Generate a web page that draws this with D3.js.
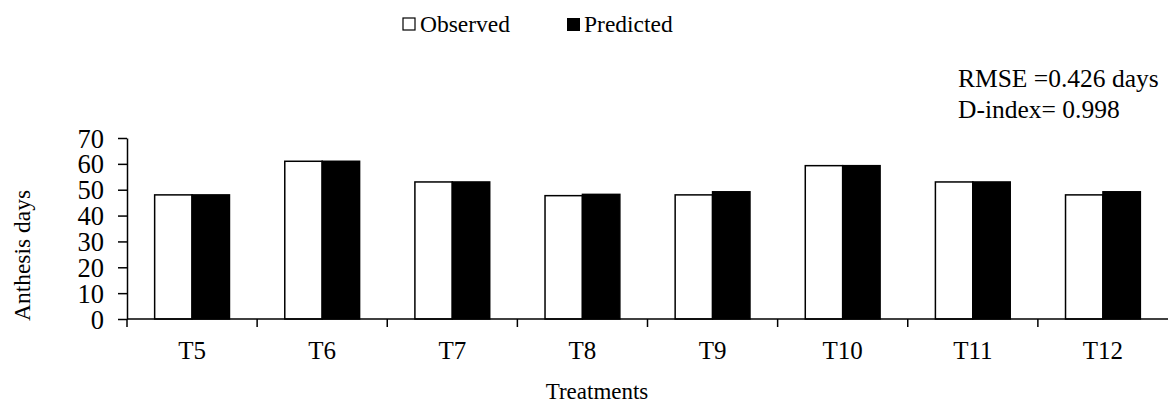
<!DOCTYPE html>
<html>
<head>
<meta charset="utf-8">
<script src="https://cdn.jsdelivr.net/npm/d3@7"></script>
<style>
  body { margin: 0; background: #fff; }
  svg { display: block; }
  svg text { font-family: "Liberation Serif", "Times New Roman", serif; fill: #000; }
</style>
</head>
<body>
<div id="chart"></div>
<script>
// data
const treatments = ["T5", "T6", "T7", "T8", "T9", "T10", "T11", "T12"];
const observed = [48, 61, 53, 47.7, 48, 59.3, 53, 48];
const predicted = [48, 61, 53, 48.2, 49.2, 59.3, 53, 49.2];
const yTicks = [0, 10, 20, 30, 40, 50, 60, 70];

const width = 1168, height = 406;
const margin = {top: 138, right: 0, bottom: 87, left: 127};

const svg = d3.select("#chart").append("svg")
  .attr("width", width)
  .attr("height", height);

const x = d3.scaleBand()
  .domain(treatments)
  .range([margin.left, width - margin.right])
  .paddingInner(0)
  .paddingOuter(0);

// bars fill ~57% of each band
const barW = x.bandwidth() * 0.2875;

const y = d3.scaleLinear()
  .domain([0, 70])
  .range([height - margin.bottom, margin.top]);

// bars
const rows = treatments.map((t, i) => ({t, obs: observed[i], pred: predicted[i]}));
const g = svg.append("g");
rows.forEach(d => {
  const cx = x(d.t) + x.bandwidth() / 2;
  g.append("rect")
    .attr("x", cx - barW)
    .attr("y", y(d.obs))
    .attr("width", barW)
    .attr("height", y(0) - y(d.obs))
    .attr("fill", "#fff")
    .attr("stroke", "#000")
    .attr("stroke-width", 1.5);
  g.append("rect")
    .attr("x", cx)
    .attr("y", y(d.pred))
    .attr("width", barW)
    .attr("height", y(0) - y(d.pred))
    .attr("fill", "#000")
    .attr("stroke", "#000")
    .attr("stroke-width", 1.5);
});

// y axis
const yAxis = svg.append("g")
  .attr("transform", `translate(${margin.left},0)`)
  .call(d3.axisLeft(y).tickValues(yTicks).tickSize(9).tickPadding(14).tickSizeOuter(0));
yAxis.attr("font-family", null);
yAxis.select(".domain").attr("stroke-width", 1.5);
yAxis.selectAll(".tick line").attr("stroke-width", 1.5);
yAxis.selectAll("text")
  .style("font-size", "26.5px")
  .attr("dy", "0.34em");

// x axis: ticks on band boundaries
const xAxis = svg.append("g")
  .attr("transform", `translate(0,${y(0)})`);
xAxis.append("line")
  .attr("x1", margin.left).attr("x2", width)
  .attr("y1", 0).attr("y2", 0)
  .attr("stroke", "#000").attr("stroke-width", 1.5);
xAxis.selectAll("line.tk")
  .data(treatments)
  .join("line")
  .attr("class", "tk")
  .attr("x1", d => x(d)).attr("x2", d => x(d))
  .attr("y1", 0).attr("y2", 8)
  .attr("stroke", "#000").attr("stroke-width", 1.5);
xAxis.selectAll("text")
  .data(treatments)
  .join("text")
  .attr("x", d => x(d) + x.bandwidth() / 2)
  .attr("y", 40)
  .attr("text-anchor", "middle")
  .style("font-size", "25px")
  .text(d => d);

// axis titles
svg.append("text")
  .attr("transform", `translate(30,${(y(0) + y(70)) / 2 + 27}) rotate(-90)`)
  .attr("text-anchor", "middle")
  .style("font-size", "23.5px")
  .text("Anthesis days");

svg.append("text")
  .attr("x", 597)
  .attr("y", 399)
  .attr("text-anchor", "middle")
  .style("font-size", "23px")
  .text("Treatments");

// legend
const legend = svg.append("g");
legend.append("rect")
  .attr("x", 403).attr("y", 18).attr("width", 12).attr("height", 12)
  .attr("fill", "#fff").attr("stroke", "#000").attr("stroke-width", 1.2);
legend.append("text")
  .attr("x", 420).attr("y", 32).style("font-size", "23.5px").text("Observed");
legend.append("rect")
  .attr("x", 567).attr("y", 18).attr("width", 13).attr("height", 13)
  .attr("fill", "#000");
legend.append("text")
  .attr("x", 584).attr("y", 32).style("font-size", "23.5px").text("Predicted");

// stats
svg.append("text")
  .attr("x", 958).attr("y", 87).style("font-size", "25.5px").text("RMSE =0.426 days");
svg.append("text")
  .attr("x", 958).attr("y", 118).style("font-size", "25.5px").text("D-index= 0.998");
</script>
</body>
</html>
